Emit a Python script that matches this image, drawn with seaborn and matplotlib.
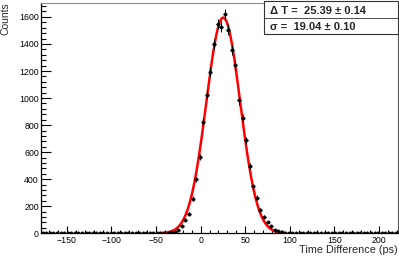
import numpy as np
import pandas as pd
import matplotlib
matplotlib.use("Agg")
import matplotlib.pyplot as plt
import seaborn as sns
from matplotlib.patches import Rectangle
from matplotlib.lines import Line2D
from matplotlib.ticker import MultipleLocator

# histogram: 4 ps bins, first centre at -177 ps
BIN_W = 4
BIN_START = -177
counts = [1, 0, 2, 1, 1, 0, 2, 1, 0, 1, 2, 1, 0, 1, 1, 2, 0, 1, 2, 1,
          1, 0, 2, 1, 2, 1, 1, 2, 3, 2, 1, 2, 3, 2, 4,
          5, 8, 12, 24, 54, 101, 146, 257, 398, 563, 825, 1025, 1192, 1398, 1548,
          1528, 1620, 1506, 1356, 1244, 982, 850, 689, 496, 348, 264, 175, 121, 84, 52,
          27, 15, 8, 5, 3,
          2, 2, 1, 1, 2, 0, 1, 1, 2, 1, 0, 1, 2, 1, 1, 0, 1, 2, 1, 0,
          1, 1, 2, 1, 0, 1, 1, 0, 1, 1]

# gaussian fit shown in the stats box
DT, DT_ERR = 25.39, 0.14
SIGMA, SIGMA_ERR = 19.04, 0.10
AMP = 1595
FIT_RANGE = (-46, 96)

centers = BIN_START + BIN_W * np.arange(len(counts))
df = pd.DataFrame({"t": centers, "n": counts})
df["err"] = np.sqrt(df["n"])

xf = np.linspace(*FIT_RANGE, 400)
fit = pd.DataFrame({"t": xf, "n": AMP * np.exp(-0.5 * ((xf - DT) / SIGMA) ** 2)})

sns.set_theme(style="ticks")
plt.rcParams["font.family"] = ["Liberation Sans", "DejaVu Sans"]

fig = plt.figure(figsize=(3.99, 2.60), dpi=100)
ax = fig.add_axes([41 / 399, 26.7 / 260, 356.7 / 399, 230.6 / 260])

sns.lineplot(data=fit, x="t", y="n", ax=ax, color="#ff0000", lw=1.8, zorder=2)
ax.errorbar(df["t"], df["n"], yerr=df["err"], xerr=BIN_W / 2, fmt="none",
            ecolor="black", elinewidth=0.7, zorder=3)
sns.scatterplot(data=df, x="t", y="n", ax=ax, color="black", s=6,
                edgecolor="black", linewidth=0.3, zorder=4)

ax.set_xlim(-179, 221)
ax.set_ylim(0, 1705)
ax.set_xlabel("")
ax.set_ylabel("")
ax.xaxis.set_major_locator(MultipleLocator(50))
ax.xaxis.set_minor_locator(MultipleLocator(10))
ax.yaxis.set_major_locator(MultipleLocator(200))
ax.yaxis.set_minor_locator(MultipleLocator(40))
ax.tick_params(axis="both", which="both", direction="in", labelsize=6.3,
               colors="black", width=0.8)
ax.tick_params(axis="y", which="major", length=7.2, pad=1.5)
ax.tick_params(axis="y", which="minor", length=3.6)
ax.tick_params(axis="x", which="major", length=5, pad=2)
ax.tick_params(axis="x", which="minor", length=2.5)
for s in ["left", "bottom"]:
    ax.spines[s].set_color("black")
    ax.spines[s].set_linewidth(0.9)
ax.spines["top"].set_color("#8c8c8c")
ax.spines["right"].set_color("#555555")
for s in ["top", "right"]:
    ax.spines[s].set_linewidth(0.8)

fig.text(398 / 399, 1 - 250 / 260, "Time Difference (ps)", ha="right",
         va="center", fontsize=7.8)
fig.text(5.5 / 399, 1 - 2 / 260, "Counts", ha="center", va="top",
         rotation=90, fontsize=7.5)

# stats box
bx0, bx1 = 264 / 399, 398 / 399
by0, by1 = 1 - 34 / 260, 1 - 0.5 / 260
fig.patches.append(Rectangle((bx0, by0), bx1 - bx0, by1 - by0,
                             transform=fig.transFigure, facecolor="white",
                             edgecolor="#333333", lw=0.8, zorder=10))
fig.lines.append(Line2D([bx0, bx1], [1 - 18 / 260] * 2,
                        transform=fig.transFigure, color="#333333", lw=0.6,
                        zorder=11))
fig.text(270 / 399, 1 - 11.5 / 260, f"Δ T =  {DT:.2f} ± {DT_ERR:.2f}",
         ha="left", va="center", fontsize=8, fontweight="bold", zorder=12)
fig.text(270 / 399, 1 - 27 / 260, f"σ =  {SIGMA:.2f} ± {SIGMA_ERR:.2f}",
         ha="left", va="center", fontsize=8, fontweight="bold", zorder=12)

fig.savefig("out.png", dpi=100)
plt.close(fig)
